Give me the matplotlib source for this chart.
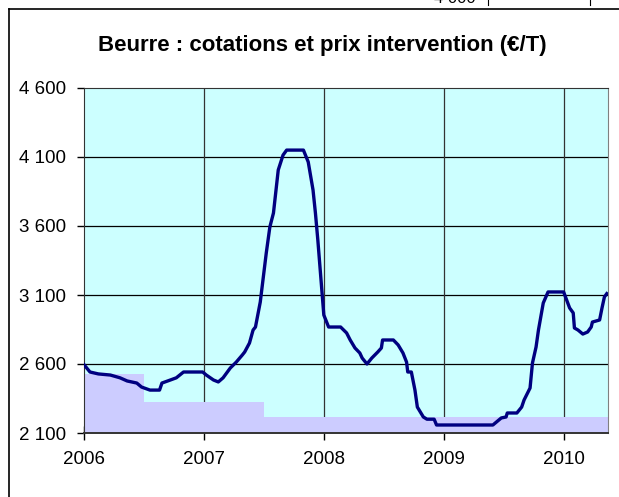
import matplotlib.pyplot as plt
from matplotlib.lines import Line2D

plt.rcParams['font.family'] = ['Liberation Sans', 'DejaVu Sans']

# butter quotations (decimal year, EUR/T)
quote_year = [2006.00, 2006.05, 2006.12, 2006.22, 2006.30, 2006.36, 2006.44, 2006.48,
              2006.55, 2006.63, 2006.65, 2006.72, 2006.77, 2006.83, 2006.99, 2007.02,
              2007.08, 2007.12, 2007.16, 2007.22, 2007.27, 2007.32, 2007.34, 2007.38,
              2007.41, 2007.43, 2007.47, 2007.52, 2007.55, 2007.58, 2007.62, 2007.66,
              2007.69, 2007.83, 2007.87, 2007.91, 2007.93, 2007.95, 2007.97, 2007.99,
              2008.00, 2008.04, 2008.14, 2008.19, 2008.22, 2008.26, 2008.30, 2008.32,
              2008.36, 2008.40, 2008.45, 2008.48, 2008.49, 2008.58, 2008.62, 2008.66,
              2008.69, 2008.70, 2008.73, 2008.76, 2008.78, 2008.83, 2008.86, 2008.92,
              2008.94, 2009.41, 2009.48, 2009.52, 2009.53, 2009.61, 2009.65, 2009.67,
              2009.72, 2009.74, 2009.77, 2009.79, 2009.83, 2009.87, 2010.00, 2010.05,
              2010.08, 2010.09, 2010.12, 2010.16, 2010.20, 2010.23, 2010.24, 2010.30,
              2010.32, 2010.34, 2010.36]
quote_val = [2595, 2542, 2528, 2520, 2500, 2477, 2462, 2433,
             2411, 2411, 2462, 2484, 2500, 2542, 2542, 2520,
             2484, 2470, 2500, 2571, 2614, 2665, 2687, 2752,
             2846, 2868, 3049, 3404, 3593, 3694, 4006, 4114,
             4150, 4150, 4064, 3861, 3694, 3499, 3281, 3064,
             2955, 2868, 2868, 2825, 2774, 2716, 2680, 2643,
             2600, 2643, 2687, 2716, 2774, 2774, 2738, 2680,
             2614, 2542, 2542, 2411, 2288, 2216, 2200, 2200,
             2158, 2158, 2209, 2216, 2245, 2245, 2288, 2339,
             2426, 2607, 2723, 2846, 3042, 3122, 3122, 3006,
             2970, 2861, 2846, 2817, 2832, 2868, 2904, 2919,
             3006, 3086, 3110]

# intervention price steps
interv_year = [2006.0, 2006.5, 2007.5, 2010.37]
interv_val = [2528, 2324, 2217.5, 2217.5]

yticks = [2100, 2600, 3100, 3600, 4100, 4600]
xticks = [2006, 2007, 2008, 2009, 2010]

fig = plt.figure(figsize=(6.19, 4.97), dpi=100)
ax = fig.add_axes([84 / 619, 64 / 497, 524 / 619, 345 / 497])
ax.set_facecolor('#ccffff')

ax.fill_between(interv_year, 2100, interv_val, step='post', color='#ccccff', lw=0, zorder=2)
ax.plot(quote_year, quote_val, color='#000080', lw=2.4, zorder=3)

ax.set_xlim(2006, 2010.37)
ax.set_ylim(2100, 4600)
ax.set_yticks(yticks)
ax.set_yticklabels(['{:,}'.format(v).replace(',', ' ') for v in yticks], fontsize=13.5)
ax.set_xticks(xticks)
ax.set_xticklabels([str(v) for v in xticks], fontsize=13.5)

for v in yticks[1:-1]:
    ax.axhline(v, color='black', lw=0.9, zorder=1)
for v in xticks[1:]:
    ax.axvline(v, color='#333333', lw=0.9, zorder=1)

ax.tick_params(axis='y', direction='out', length=5, width=1, pad=8)
ax.tick_params(axis='x', direction='inout', length=10, width=1, pad=8)
ax.spines['left'].set_color('#333333')
ax.spines['bottom'].set_color('#333333')
ax.spines['bottom'].set_linewidth(1.4)
ax.spines['top'].set_color('#333333')
ax.spines['right'].set_color('#808080')

fig.text(322 / 619, 1 - 45 / 497, 'Beurre : cotations et prix intervention (€/T)',
         ha='center', va='center', fontsize=16, fontweight='bold')

# outer chart frame
fig.add_artist(Line2D([9 / 619, 9 / 619], [0, 1 - 9 / 497], color='black', lw=1.2))
fig.add_artist(Line2D([9 / 619, 1], [1 - 9 / 497, 1 - 9 / 497], color='black', lw=1.2))
# fragment of the table above (cut off by the crop, as in the source)
fig.add_artist(Line2D([488 / 619, 488 / 619], [1 - 5 / 497, 1], color='black', lw=0.8))
fig.add_artist(Line2D([590 / 619, 590 / 619], [1 - 5 / 497, 1], color='black', lw=0.8))
fig.text(455 / 619, 1 - 3 / 497, '4 000', ha='center', va='baseline', fontsize=12)

fig.savefig('out.png', dpi=100)
